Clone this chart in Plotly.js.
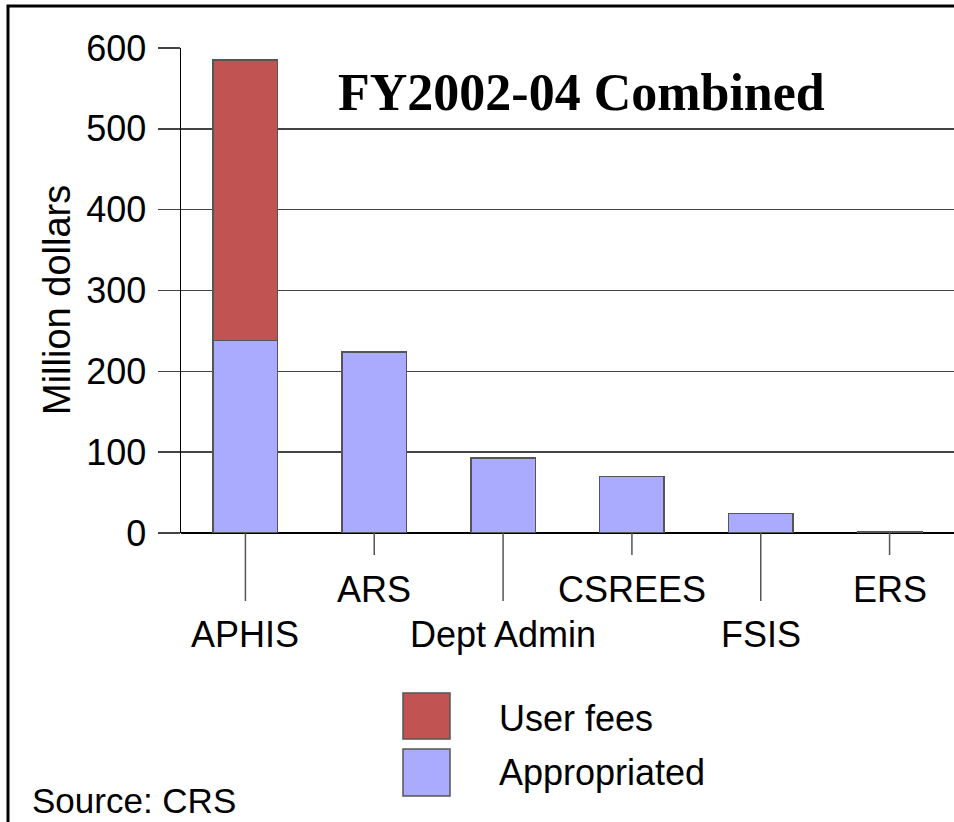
<!DOCTYPE html>
<html>
<head>
<meta charset="utf-8">
<script src="https://cdn.plot.ly/plotly-3.0.1.min.js"></script>
<style>html,body{margin:0;padding:0;background:#fff;}#chart{width:954px;height:822px;}</style>
</head>
<body>
<div id="chart"></div>
<script>
var categories = ['APHIS', 'ARS', 'Dept Admin', 'CSREES', 'FSIS', 'ERS'];
var appropriated = [238, 224, 93, 70, 24, 1.5];
var userFees = [347, null, null, null, null, null];
var seriesNames = ['User fees', 'Appropriated'];
var yTicks = [0, 100, 200, 300, 400, 500, 600];
var chartLabel = 'FY2002-04 Combined';
var yTitle = 'Million dollars';
var sourceText = 'Source: CRS';

var RED = '#C25353';
var BLUE = '#AAAAFF';
var EDGE = '#555555';
var SANS = 'Arial, Liberation Sans, sans-serif';

var traces = [
  {type: 'bar', name: seriesNames[1], x: categories, y: appropriated, width: 0.5,
   marker: {color: BLUE, line: {color: EDGE, width: 1.5}}, showlegend: false, hoverinfo: 'x+y'},
  {type: 'bar', name: seriesNames[0], x: categories, y: userFees, width: 0.5,
   marker: {color: RED, line: {color: EDGE, width: 1.5}}, showlegend: false, hoverinfo: 'x+y'}
];

var PH = 485, PW = 773, L = 181, B0 = 533;
function px(x) { return (x - L) / PW; }
function py(y) { return (B0 - y) / PH; }

var shapes = [];
var annotations = [];
categories.forEach(function (c, i) {
  var top = (i % 2 === 1);
  shapes.push({type: 'line', xref: 'x', yref: 'paper', x0: c, x1: c, y0: 0,
    y1: top ? py(555) : py(601), line: {color: '#555', width: 1.5}});
  annotations.push({xref: 'x', yref: 'paper', x: c, y: top ? py(589) : py(634),
    xanchor: 'center', yanchor: 'middle', showarrow: false, text: c,
    font: {family: SANS, size: 36, color: '#000'}});
});

// legend squares + labels
shapes.push({type: 'rect', xref: 'paper', yref: 'paper', x0: px(403), x1: px(450), y0: py(739), y1: py(693),
  fillcolor: RED, line: {color: EDGE, width: 1.5}});
shapes.push({type: 'rect', xref: 'paper', yref: 'paper', x0: px(403), x1: px(450), y0: py(796), y1: py(749),
  fillcolor: BLUE, line: {color: EDGE, width: 1.5}});
annotations.push({xref: 'paper', yref: 'paper', x: px(497), y: py(718), xanchor: 'left', yanchor: 'middle',
  showarrow: false, text: seriesNames[0], font: {family: SANS, size: 36, color: '#000'}});
annotations.push({xref: 'paper', yref: 'paper', x: px(497), y: py(772), xanchor: 'left', yanchor: 'middle',
  showarrow: false, text: seriesNames[1], font: {family: SANS, size: 36, color: '#000'}});
annotations.push({xref: 'paper', yref: 'paper', x: px(30), y: py(800), xanchor: 'left', yanchor: 'middle',
  showarrow: false, text: sourceText, font: {family: SANS, size: 35, color: '#000'}});
annotations.push({xref: 'paper', yref: 'paper', x: px(581), y: py(92), xanchor: 'center', yanchor: 'middle',
  showarrow: false, text: '<b>' + chartLabel + '</b>',
  font: {family: 'Times New Roman, Liberation Serif, serif', size: 52, color: '#000'}});
annotations.push({xref: 'paper', yref: 'paper', x: px(57), y: py(300), xanchor: 'center', yanchor: 'middle',
  textangle: -90, showarrow: false, text: yTitle, font: {family: SANS, size: 38, color: '#000'}});

// outer frame
shapes.push({type: 'rect', xref: 'paper', yref: 'paper', x0: px(8), x1: px(1100), y0: py(1100), y1: py(6),
  line: {color: '#000', width: 3}, layer: 'above'});

var layout = {
  width: 954, height: 822,
  margin: {l: L, r: 954 - L - PW, t: 48, b: 822 - B0, pad: 0},
  paper_bgcolor: '#fff', plot_bgcolor: '#fff',
  barmode: 'stack',
  showlegend: false,
  xaxis: {type: 'category', range: [-0.5, 5.5], showticklabels: false, ticks: '',
    showgrid: false, zeroline: false, showline: false, fixedrange: true},
  yaxis: {range: [0, 600], tickvals: yTicks, ticks: 'outside', ticklen: 22, tickwidth: 1.5, tickcolor: '#444',
    showgrid: true, gridcolor: '#444', gridwidth: 1.5, zeroline: true, zerolinecolor: '#000', zerolinewidth: 2,
    showline: true, linecolor: '#000', linewidth: 1.5, ticklabelstandoff: 4,
    tickfont: {family: SANS, size: 36, color: '#000'}, fixedrange: true},
  shapes: shapes,
  annotations: annotations
};

Plotly.newPlot('chart', traces, layout, {displayModeBar: false, staticPlot: true});
</script>
</body>
</html>
